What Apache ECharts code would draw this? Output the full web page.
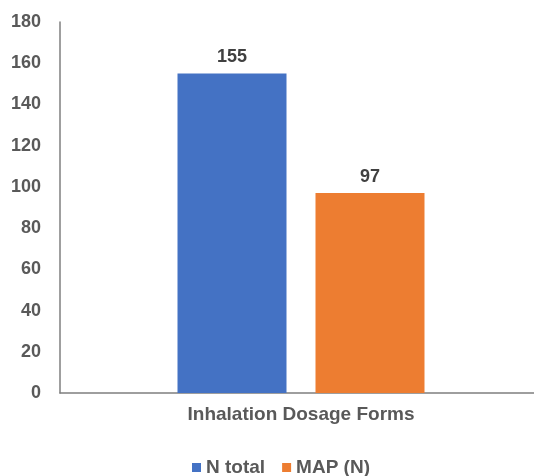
<!DOCTYPE html>
<html>
<head>
<meta charset="utf-8">
<style>
  html, body { margin: 0; padding: 0; background: #ffffff; }
  #chart { width: 534px; height: 476px; }
</style>
<script src="https://cdn.jsdelivr.net/npm/echarts@6/dist/echarts.min.js"></script>
</head>
<body>
<div id="chart"></div>
<script>
// Dosage form category and the two counts shown for it
const categories = ['Inhalation Dosage Forms'];
const nTotal = [155];
const mapN = [97];
const seriesNames = ['N total', 'MAP (N)'];

const textColor = '#595959';
const fontFamily = 'Liberation Sans, Arial, sans-serif';

const chart = echarts.init(document.getElementById('chart'), null, { renderer: 'canvas' });

const labelStyle = {
  show: true,
  position: 'top',
  distance: 7,
  color: '#404040',
  fontWeight: 'bold',
  fontSize: 18,
  fontFamily: fontFamily
};

chart.setOption({
  animation: false,
  backgroundColor: '#ffffff',
  grid: { left: 60, width: 482, top: 22, height: 371, containLabel: false, outerBoundsMode: 'none' },
  legend: {
    left: 187,
    top: 453,
    itemWidth: 9,
    itemHeight: 9,
    itemGap: 17,
    icon: 'rect',
    textStyle: { color: textColor, fontWeight: 'bold', fontSize: 19, fontFamily: fontFamily },
    data: seriesNames
  },
  xAxis: {
    type: 'category',
    data: categories,
    axisLine: { lineStyle: { color: '#7f7f7f', width: 1.5 } },
    axisTick: { show: false },
    axisLabel: { color: textColor, fontWeight: 'bold', fontSize: 19, fontFamily: fontFamily, margin: 12 }
  },
  yAxis: {
    type: 'value',
    min: 0,
    max: 180,
    interval: 20,
    axisLine: { show: true, lineStyle: { color: '#7f7f7f', width: 1.5 } },
    axisTick: { show: false },
    splitLine: { show: false },
    axisLabel: { color: textColor, fontWeight: 'bold', fontSize: 18, fontFamily: fontFamily, margin: 19 }
  },
  series: [
    {
      name: seriesNames[0],
      type: 'bar',
      data: nTotal,
      barWidth: 109,
      barGap: '26.6%',
      itemStyle: { color: '#4472C4' },
      label: labelStyle
    },
    {
      name: seriesNames[1],
      type: 'bar',
      data: mapN,
      barWidth: 109,
      itemStyle: { color: '#ED7D31' },
      label: labelStyle
    }
  ]
});
</script>
</body>
</html>
